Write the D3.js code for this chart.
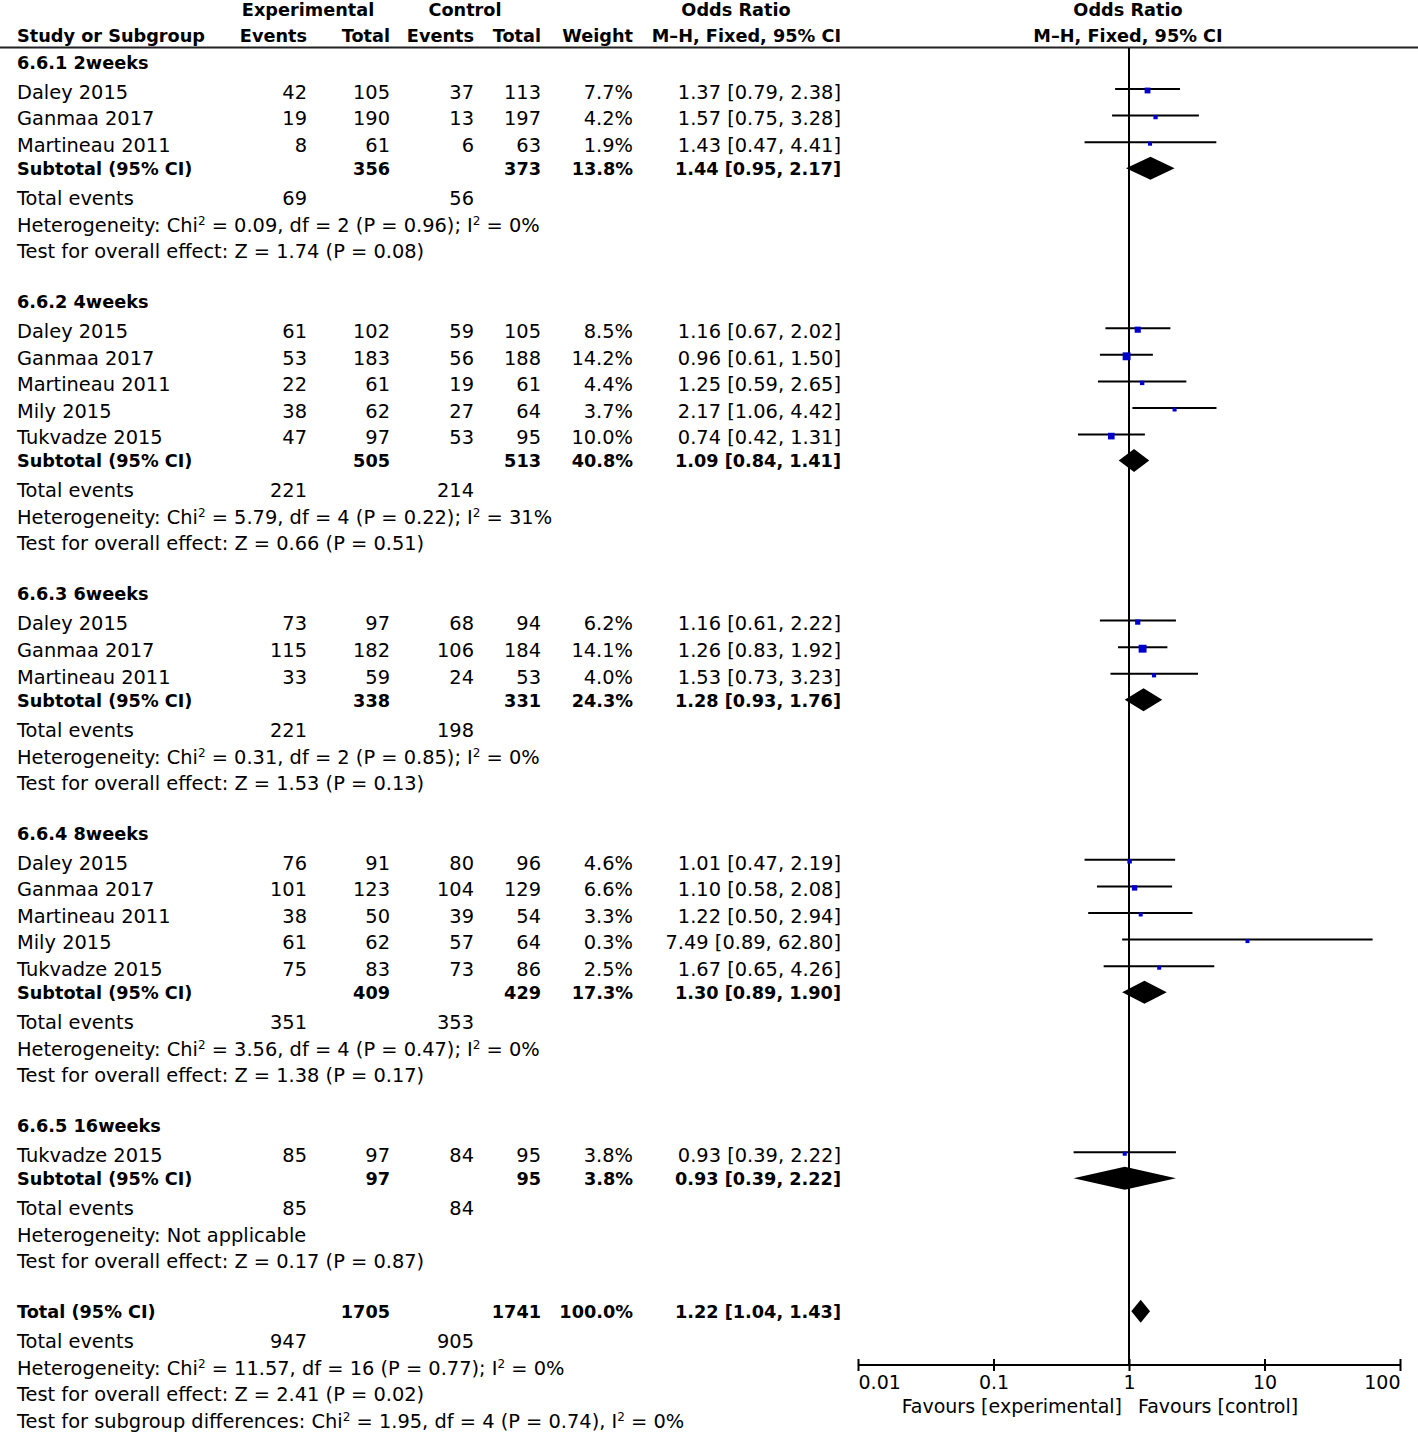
<!DOCTYPE html>
<html><head><meta charset="utf-8">
<script src="https://cdn.jsdelivr.net/npm/d3@7"></script>
<style>
html,body{margin:0;padding:0;background:#fff;}
svg text{font-family:"DejaVu Sans",sans-serif;font-size:19.4px;fill:#000;}
svg text.b{font-weight:bold;font-size:17.7px;}
</style></head><body>
<svg id="c" width="1418" height="1434"></svg>
<script>
// ---------- data ----------
const subgroupNames = ["6.6.1 2weeks","6.6.2 4weeks","6.6.3 6weeks","6.6.4 8weeks","6.6.5 16weeks"];
const studyNames = ["Daley 2015","Ganmaa 2017","Martineau 2011",
  "Daley 2015","Ganmaa 2017","Martineau 2011","Mily 2015","Tukvadze 2015",
  "Daley 2015","Ganmaa 2017","Martineau 2011",
  "Daley 2015","Ganmaa 2017","Martineau 2011","Mily 2015","Tukvadze 2015",
  "Tukvadze 2015"];
const studyGroup = [0,0,0, 1,1,1,1,1, 2,2,2, 3,3,3,3,3, 4];
const expEvents = [42,19,8, 61,53,22,38,47, 73,115,33, 76,101,38,61,75, 85];
const expTotal  = [105,190,61, 102,183,61,62,97, 97,182,59, 91,123,50,62,83, 97];
const ctrlEvents= [37,13,6, 59,56,19,27,53, 68,106,24, 80,104,39,57,73, 84];
const ctrlTotal = [113,197,63, 105,188,61,64,95, 94,184,53, 96,129,54,64,86, 95];
const weights   = [7.7,4.2,1.9, 8.5,14.2,4.4,3.7,10.0, 6.2,14.1,4.0, 4.6,6.6,3.3,0.3,2.5, 3.8];
const orVals    = [1.37,1.57,1.43, 1.16,0.96,1.25,2.17,0.74, 1.16,1.26,1.53, 1.01,1.10,1.22,7.49,1.67, 0.93];
const ciLow     = [0.79,0.75,0.47, 0.67,0.61,0.59,1.06,0.42, 0.61,0.83,0.73, 0.47,0.58,0.50,0.89,0.65, 0.39];
const ciHigh    = [2.38,3.28,4.41, 2.02,1.50,2.65,4.42,1.31, 2.22,1.92,3.23, 2.19,2.08,2.94,62.80,4.26, 2.22];

const subExpTotal  = [356,505,338,409,97];
const subCtrlTotal = [373,513,331,429,95];
const subWeight    = [13.8,40.8,24.3,17.3,3.8];
const subOR        = [1.44,1.09,1.28,1.30,0.93];
const subLow       = [0.95,0.84,0.93,0.89,0.39];
const subHigh      = [2.17,1.41,1.76,1.90,2.22];
const subExpEvents = [69,221,221,351,85];
const subCtrlEvents= [56,214,198,353,84];
const subHet = [
  ["Heterogeneity: Chi","2"," = 0.09, df = 2 (P = 0.96); I","2"," = 0%"],
  ["Heterogeneity: Chi","2"," = 5.79, df = 4 (P = 0.22); I","2"," = 31%"],
  ["Heterogeneity: Chi","2"," = 0.31, df = 2 (P = 0.85); I","2"," = 0%"],
  ["Heterogeneity: Chi","2"," = 3.56, df = 4 (P = 0.47); I","2"," = 0%"],
  ["Heterogeneity: Not applicable"]];
const subTest = ["Test for overall effect: Z = 1.74 (P = 0.08)","Test for overall effect: Z = 0.66 (P = 0.51)",
  "Test for overall effect: Z = 1.53 (P = 0.13)","Test for overall effect: Z = 1.38 (P = 0.17)",
  "Test for overall effect: Z = 0.17 (P = 0.87)"];

const totalRow = {expTotal:1705, ctrlTotal:1741, weight:100.0, or:1.22, lo:1.04, hi:1.43, expEvents:947, ctrlEvents:905};
const totalHet = ["Heterogeneity: Chi","2"," = 11.57, df = 16 (P = 0.77); I","2"," = 0%"];
const totalTest = "Test for overall effect: Z = 2.41 (P = 0.02)";
const subgroupDiff = ["Test for subgroup differences: Chi","2"," = 1.95, df = 4 (P = 0.74), I","2"," = 0%"];

const axisTicks = [0.01,0.1,1,10,100];
const axisTickLabels = ["0.01","0.1","1","10","100"];

// ---------- layout ----------
const svg = d3.select("#c");
const colName = 17, colEE = 307, colET = 390, colCE = 474, colCT = 541, colW = 633, colCI = 841;
const x = d3.scaleLog().domain([0.01,100]).range([858,1400]);
const axisY = 1365;
const dyText = 6.8;

function txt(xp, y, s, anchor, bold){
  return svg.append("text").attr("x",xp).attr("y",y+dyText)
    .attr("text-anchor",anchor||"start").attr("class",bold?"b":null).text(s);
}
function supText(xp, y, parts){
  const t = svg.append("text").attr("x",xp).attr("y",y+dyText);
  parts.forEach((p,i)=>{
    if(i%2===1){
      t.append("tspan").attr("dy",-7).style("font-size","12px").text(p);
    } else {
      const ts = t.append("tspan").text(p);
      if(i>0) ts.attr("dy",7);
    }
  });
  return t;
}
const fmt2 = d => d.toFixed(2);
const ciStr = (o,l,h) => `${fmt2(o)} [${fmt2(l)}, ${fmt2(h)}]`;
const pct = w => w.toFixed(1)+"%";

// header
txt(308,9,"Experimental","middle",true);
txt(465,9,"Control","middle",true);
txt(736,9,"Odds Ratio","middle",true);
txt(1128,9,"Odds Ratio","middle",true);
txt(colName,35,"Study or Subgroup","start",true);
txt(colEE,35,"Events","end",true);
txt(colET,35,"Total","end",true);
txt(colCE,35,"Events","end",true);
txt(colCT,35,"Total","end",true);
txt(colW,35,"Weight","end",true);
txt(colCI,35,"M\u2013H, Fixed, 95% CI","end",true);
txt(1128,35,"M\u2013H, Fixed, 95% CI","middle",true);
svg.append("line").attr("x1",0).attr("x2",1418).attr("y1",47.5).attr("y2",47.5)
  .attr("stroke","#222").attr("stroke-width",2);

// reference line
svg.append("line").attr("x1",x(1)).attr("x2",x(1)).attr("y1",48).attr("y2",axisY)
  .attr("stroke","#000").attr("stroke-width",2);

function diamond(y, o, l, h, hh){
  svg.append("path").attr("d",`M${x(l)},${y}L${x(o)},${y-hh}L${x(h)},${y}L${x(o)},${y+hh}Z`).attr("fill","#000");
}

let y = 62;
subgroupNames.forEach((g,gi)=>{
  txt(colName,y,g,"start",true);
  y += 30;
  const idx = studyGroup.map((v,i)=>v===gi?i:-1).filter(i=>i>=0);
  idx.forEach((i,k)=>{
    if(k>0) y += 26.6;
    txt(colName,y,studyNames[i]);
    txt(colEE,y,expEvents[i],"end");
    txt(colET,y,expTotal[i],"end");
    txt(colCE,y,ctrlEvents[i],"end");
    txt(colCT,y,ctrlTotal[i],"end");
    txt(colW,y,pct(weights[i]),"end");
    txt(colCI,y,ciStr(orVals[i],ciLow[i],ciHigh[i]),"end");
    const ly = y-3;
    svg.append("line").attr("x1",x(ciLow[i])).attr("x2",x(ciHigh[i])).attr("y1",ly).attr("y2",ly)
      .attr("stroke","#000").attr("stroke-width",2);
    const s = Math.max(4, Math.sqrt(weights[i])*2.1);
    svg.append("rect").attr("x",x(orVals[i])-s/2).attr("y",ly+1.5-s/2).attr("width",s).attr("height",s)
      .attr("fill","#0000cc");
  });
  y += 23;
  txt(colName,y,"Subtotal (95% CI)","start",true);
  txt(colET,y,subExpTotal[gi],"end",true);
  txt(colCT,y,subCtrlTotal[gi],"end",true);
  txt(colW,y,pct(subWeight[gi]),"end",true);
  txt(colCI,y,ciStr(subOR[gi],subLow[gi],subHigh[gi]),"end",true);
  diamond(y, subOR[gi], subLow[gi], subHigh[gi], 11.5);
  y += 30;
  txt(colName,y,"Total events");
  txt(colEE,y,subExpEvents[gi],"end");
  txt(colCE,y,subCtrlEvents[gi],"end");
  y += 27;
  supText(colName,y,subHet[gi]);
  y += 26;
  txt(colName,y,subTest[gi]);
  y += 50;
});

// overall
txt(colName,y,"Total (95% CI)","start",true);
txt(colET,y,totalRow.expTotal,"end",true);
txt(colCT,y,totalRow.ctrlTotal,"end",true);
txt(colW,y,pct(totalRow.weight),"end",true);
txt(colCI,y,ciStr(totalRow.or,totalRow.lo,totalRow.hi),"end",true);
diamond(y, totalRow.or, totalRow.lo, totalRow.hi, 11.5);
y += 30;
txt(colName,y,"Total events");
txt(colEE,y,totalRow.expEvents,"end");
txt(colCE,y,totalRow.ctrlEvents,"end");
y += 27;
supText(colName,y,totalHet);
y += 26;
txt(colName,y,totalTest);
y += 27;
supText(colName,y,subgroupDiff);

// axis
const axis = d3.axisBottom(x).tickValues(axisTicks).tickSize(6).tickFormat((d,i)=>axisTickLabels[i]);
const ag = svg.append("g").attr("transform",`translate(0,${axisY})`).call(axis);
ag.select(".domain").attr("stroke","#000").attr("stroke-width",2).attr("d",`M${x(0.01)},0H${x(100)}`);
ag.selectAll(".tick line").attr("y1",-6).attr("y2",6).attr("stroke","#000").attr("stroke-width",2);
ag.selectAll(".tick text").attr("y",11).attr("dy","0.71em")
  .style("font-family",'"DejaVu Sans",sans-serif').style("font-size","19px").attr("fill","#000")
  .attr("text-anchor",(d,i)=> i===0?"start":(i===axisTicks.length-1?"end":"middle"));
svg.append("text").attr("x",1122).attr("y",1413).attr("text-anchor","end").style("font-size","19px").text("Favours [experimental]");
svg.append("text").attr("x",1138).attr("y",1413).attr("text-anchor","start").style("font-size","19px").text("Favours [control]");
</script>
</body></html>
